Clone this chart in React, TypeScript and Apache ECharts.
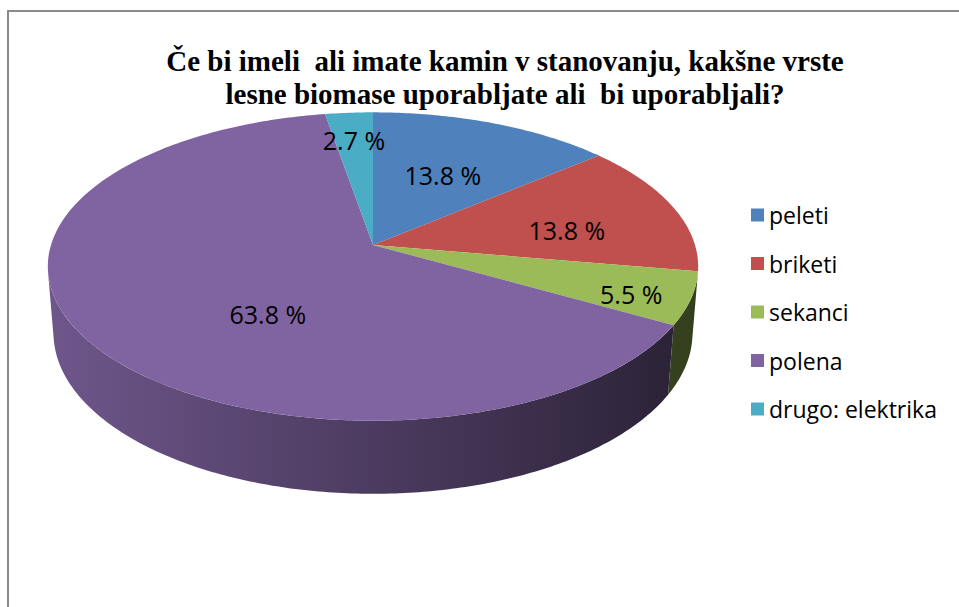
import React, { useEffect, useRef } from "react";
import * as echarts from "echarts";

// ---- data ----
const TITLE_LINES = [
  "Če bi imeli  ali imate kamin v stanovanju, kakšne vrste",
  "lesne biomase uporabljate ali  bi uporabljali?",
];
const CATEGORIES = ["peleti", "briketi", "sekanci", "polena", "drugo: elektrika"];
const VALUES = [13.8, 13.8, 5.5, 63.8, 2.7];
const COLORS = ["#4f81bd", "#c0504d", "#9bbb59", "#8064a2", "#4bacc6"];

// ---- 3D projection setup (layout, not data) ----
const CX = 373;
const CY = 245;
const FOCAL = 2038;
const RADIUS = 0.158; // relative to camera distance 1
const HEIGHT = 0.0374;
const PHI = (28 * Math.PI) / 180;
const SIN = Math.sin(PHI);
const COS = Math.cos(PHI);
// label placement (radius fraction, depth fraction)
const LABEL_R = [0.55, 0.64, 0.82, 0.39, 0.77];
const LABEL_D = [0, 0.15, 0.08, 0.5, 0];

function project(X: number, Y: number, Z: number): number[] {
  const depth = 1 - (Y * SIN + Z * COS);
  const up = Y * COS - Z * SIN;
  return [CX + (FOCAL * X) / depth, CY - (FOCAL * up) / depth];
}
function rimPoint(deg: number, r: number, Y: number): number[] {
  const t = (deg * Math.PI) / 180;
  return project(r * RADIUS * Math.sin(t), Y, -r * RADIUS * Math.cos(t));
}
function shade(hex: string, f: number): string {
  const n = parseInt(hex.slice(1), 16);
  const r = Math.round(((n >> 16) & 255) * f);
  const g = Math.round(((n >> 8) & 255) * f);
  const b = Math.round((n & 255) * f);
  return `rgb(${r},${g},${b})`;
}
function arc(a: number, b: number, Y: number): number[][] {
  const pts: number[][] = [];
  const steps = Math.max(2, Math.ceil(Math.abs(b - a) / 0.75));
  for (let k = 0; k <= steps; k++) pts.push(rimPoint(a + ((b - a) * k) / steps, 1, Y));
  return pts;
}

export default function App() {
  const ref = useRef<HTMLDivElement>(null);
  useEffect(() => {
    if (!ref.current) return;
    const chart = echarts.init(ref.current, undefined, { renderer: "svg" });
    const total = VALUES.reduce((a, b) => a + b, 0);
    const cum: number[] = [0];
    VALUES.forEach((v, i) => cum.push(cum[i] + v));
    const thetaMin = (Math.acos(-RADIUS / COS) * 180) / Math.PI;
    const thetaMax = 360 - thetaMin;

    const renderItem = (params: any, api: any) => {
      const i = params.dataIndex;
      const start = (cum[i] / total) * 360;
      const end = (cum[i + 1] / total) * 360;
      const color = COLORS[i];
      const children: any[] = [];
      const a = Math.max(start, thetaMin);
      const b = Math.min(end, thetaMax);
      if (a < b) {
        const side = arc(a, b, 0).concat(arc(b, a, -HEIGHT));
        children.push({
          type: "polygon",
          z2: 0,
          shape: { points: side },
          style: {
            fill: new echarts.graphic.LinearGradient(
              CX - FOCAL * RADIUS,
              0,
              CX + FOCAL * RADIUS,
              0,
              [
                { offset: 0, color: shade(color, 0.86) },
                { offset: 1, color: shade(color, 0.33) },
              ],
              true
            ),
          },
        });
      }
      const top = [project(0, 0, 0)].concat(arc(start, end, 0));
      children.push({
        type: "polygon",
        z2: 1,
        shape: { points: top },
        style: { fill: color },
      });
      const mid = (start + end) / 2;
      const lp = rimPoint(mid, LABEL_R[i], -LABEL_D[i] * HEIGHT);
      children.push({
        type: "text",
        z2: 100,
        style: {
          text: api.value(0).toFixed(1) + " %",
          x: lp[0],
          y: lp[1],
          align: "center",
          verticalAlign: "middle",
          fontFamily: "Open Sans",
          fontSize: 25,
          fill: "#000",
        },
      });
      return { type: "group", children };
    };

    chart.setOption({
      animation: false,
      backgroundColor: "#fff",
      title: {
        text: TITLE_LINES.join("\n"),
        left: 505,
        textAlign: "center",
        top: 44,
        padding: 0,
        textStyle: {
          fontFamily: "Liberation Serif",
          fontWeight: "bold",
          fontSize: 29,
          lineHeight: 33,
          color: "#000",
        },
      },
      legend: {
        orient: "vertical",
        left: 751,
        top: 203,
        padding: 0,
        icon: "rect",
        itemWidth: 13,
        itemHeight: 13,
        itemGap: 24.5,
        selectedMode: false,
        data: CATEGORIES,
        textStyle: { fontFamily: "Open Sans", fontSize: 23, lineHeight: 24, color: "#000" },
      },
      graphic: [
        {
          type: "rect",
          shape: { x: 8, y: 11, width: 1000, height: 700 },
          style: { fill: "none", stroke: "#8a8a8a", lineWidth: 2 },
          silent: true,
        },
      ],
      series: [
        {
          type: "custom",
          coordinateSystem: "none",
          renderItem,
          silent: true,
          data: VALUES.map((v, i) => ({ name: CATEGORIES[i], value: [v] })),
        },
        {
          type: "pie",
          radius: [0, 0],
          center: [-100, -100],
          silent: true,
          label: { show: false },
          labelLine: { show: false },
          data: VALUES.map((v, i) => ({
            name: CATEGORIES[i],
            value: v,
            itemStyle: { color: COLORS[i] },
          })),
        },
      ],
    });
    return () => chart.dispose();
  }, []);
  return (
    <div
      ref={ref}
      style={{ position: "absolute", left: 0, top: 0, width: 959, height: 607 }}
    />
  );
}
